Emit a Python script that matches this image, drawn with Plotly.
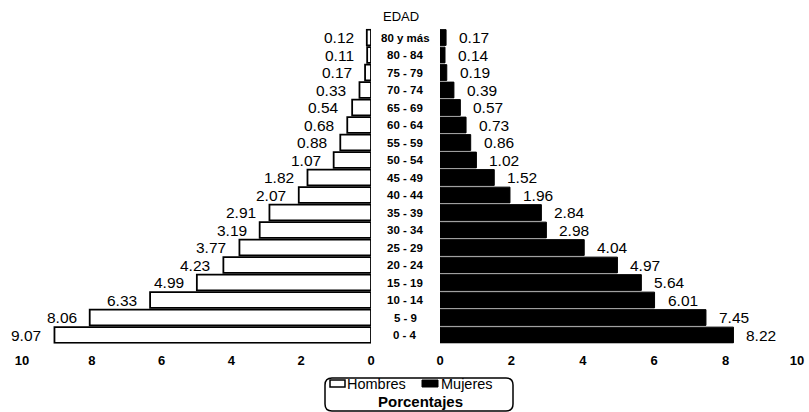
import plotly.graph_objects as go

edades = ["0 - 4", "5 - 9", "10 - 14", "15 - 19", "20 - 24", "25 - 29", "30 - 34",
          "35 - 39", "40 - 44", "45 - 49", "50 - 54", "55 - 59", "60 - 64", "65 - 69",
          "70 - 74", "75 - 79", "80 - 84", "80 y más"]
hombres = [9.07, 8.06, 6.33, 4.99, 4.23, 3.77, 3.19, 2.91, 2.07, 1.82, 1.07, 0.88,
           0.68, 0.54, 0.33, 0.17, 0.11, 0.12]
mujeres = [8.22, 7.45, 6.01, 5.64, 4.97, 4.04, 2.98, 2.84, 1.96, 1.52, 1.02, 0.86,
           0.73, 0.57, 0.39, 0.19, 0.14, 0.17]
tick_vals = [0, 2, 4, 6, 8, 10]
tick_text = ["0", "2", "4", "6", "8", "10"]

W, H = 809, 412
px = lambda x: x / W
py = lambda y: 1 - y / H

FONT = "Liberation Sans, Arial, sans-serif"

fig = go.Figure()
fig.add_trace(go.Bar(y=edades, x=hombres, orientation="h", xaxis="x", yaxis="y",
                     marker=dict(color="white", line=dict(color="black", width=1.8)),
                     name="Hombres", showlegend=False))
fig.add_trace(go.Bar(y=edades, x=mujeres, orientation="h", xaxis="x2", yaxis="y",
                     marker=dict(color="black", line=dict(color="black", width=1)),
                     name="Mujeres", showlegend=False))

ann = []
for e, h, m in zip(edades, hombres, mujeres):
    ann.append(dict(x=h, y=e, xref="x", yref="y", text=f"{h:.2f}", showarrow=False,
                    xanchor="right", xshift=-11, font=dict(size=15.5, color="black", family=FONT)))
    ann.append(dict(x=m, y=e, xref="x2", yref="y", text=f"{m:.2f}", showarrow=False,
                    xanchor="left", xshift=11, font=dict(size=15.5, color="black", family=FONT)))
    ann.append(dict(x=px(405), y=e, xref="paper", yref="y", text=f"<b>{e}</b>", showarrow=False,
                    xanchor="center", font=dict(size=11.5, color="black", family=FONT)))

ann.append(dict(x=px(401), y=py(17), xref="paper", yref="paper", text="EDAD", showarrow=False,
                xanchor="center", yanchor="middle", font=dict(size=13, color="black", family=FONT)))
ann.append(dict(x=px(347), y=py(384), xref="paper", yref="paper", text="Hombres", showarrow=False,
                xanchor="left", yanchor="middle", xshift=-2, font=dict(size=14.5, color="black", family=FONT)))
ann.append(dict(x=px(441), y=py(384), xref="paper", yref="paper", text="Mujeres", showarrow=False,
                xanchor="left", yanchor="middle", xshift=-2, font=dict(size=14.5, color="black", family=FONT)))
ann.append(dict(x=px(420), y=py(401), xref="paper", yref="paper", text="<b>Porcentajes</b>", showarrow=False,
                xanchor="center", yanchor="middle", font=dict(size=15, color="black", family=FONT)))

# rounded legend box
x0, x1, y0, y1, r = 325, 513, 378, 411, 7
path = (f"M {px(x0+r)},{py(y0)} L {px(x1-r)},{py(y0)} Q {px(x1)},{py(y0)} {px(x1)},{py(y0+r)} "
        f"L {px(x1)},{py(y1-r)} Q {px(x1)},{py(y1)} {px(x1-r)},{py(y1)} "
        f"L {px(x0+r)},{py(y1)} Q {px(x0)},{py(y1)} {px(x0)},{py(y1-r)} "
        f"L {px(x0)},{py(y0+r)} Q {px(x0)},{py(y0)} {px(x0+r)},{py(y0)} Z")
shapes = [
    dict(type="path", path=path, xref="paper", yref="paper", line=dict(color="black", width=1.5)),
    dict(type="rect", xref="paper", yref="paper", x0=px(330), x1=px(345), y0=py(387), y1=py(380),
         line=dict(color="black", width=1.5), fillcolor="white"),
    dict(type="rect", xref="paper", yref="paper", x0=px(422), x1=px(438), y0=py(387), y1=py(380),
         line=dict(color="black", width=1), fillcolor="black"),
]

ydom = [py(343.75), py(28.75)]
fig.update_layout(
    width=W, height=H, margin=dict(l=0, r=0, t=0, b=0, autoexpand=False),
    paper_bgcolor="white", plot_bgcolor="white",
    bargap=0.1, annotations=ann, shapes=shapes,
    xaxis=dict(domain=[px(22), px(371)], range=[10, 0], tickvals=tick_vals, ticktext=tick_text,
               showgrid=False, zeroline=False, showline=False, ticks="", anchor="y",
               ticklabelstandoff=7,
               tickfont=dict(size=13, color="black", family=FONT, weight="bold")),
    xaxis2=dict(domain=[px(440), px(797)], range=[0, 10], tickvals=tick_vals, ticktext=tick_text,
                showgrid=False, zeroline=False, showline=False, ticks="", anchor="y",
                ticklabelstandoff=7,
                tickfont=dict(size=13, color="black", family=FONT, weight="bold")),
    yaxis=dict(domain=ydom, type="category", categoryorder="array", categoryarray=edades,
               range=[-0.5, 17.5], showticklabels=False, showgrid=False, zeroline=False,
               showline=False, ticks="", anchor="x"),
)

fig.write_html("out.html")
